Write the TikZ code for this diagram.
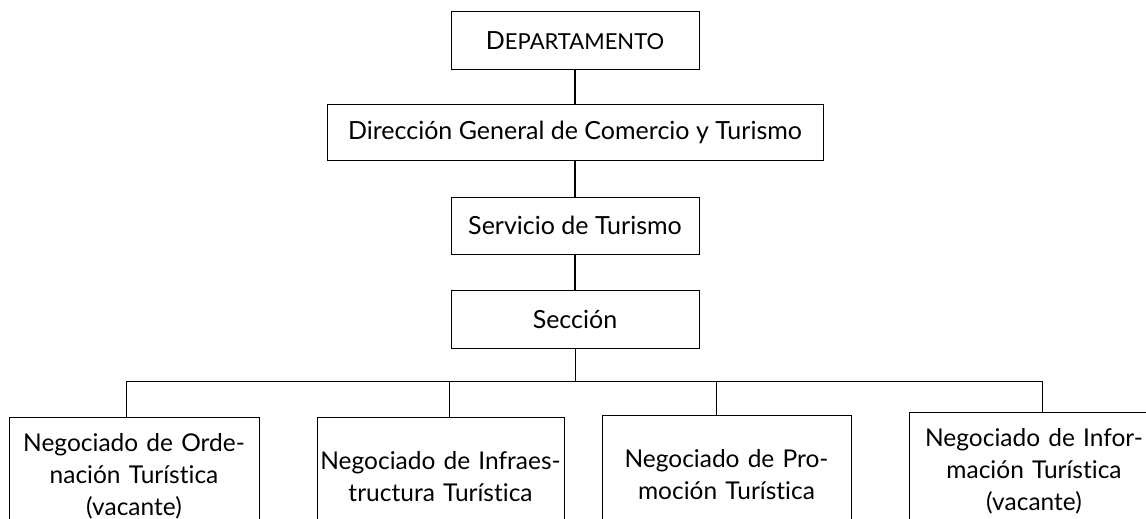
\documentclass[tikz,border=0pt]{standalone}
\usepackage{fontspec}
\setmainfont{Lato}[Ligatures=NoCommon]
\usepackage{tikz}
\usetikzlibrary{positioning}
\tikzset{unit/.style={shape=rectangle, draw=black, line width=1pt, inner sep=0pt, align=center,
    font=\fontsize{25}{32}\selectfont},
  neg/.style={unit, anchor=north, text width=246pt, minimum height=118pt,
    font=\fontsize{24.5}{32}\selectfont}}

\begin{document}
\begin{tikzpicture}[x=1pt, y=-1pt]
                \useasboundingbox (0,0) rectangle (1146,519);

                \node[unit, minimum width=248pt, minimum height=58pt] (Dep) at (575,41) {D{\fontsize{22}{24}\selectfont EPARTAMENTO}};
                \node[unit, minimum width=496pt, minimum height=56pt] (Dir) at (575,132) {Dirección General de Comercio y Turismo};
                \node[unit, minimum width=248pt, minimum height=57pt] (Ser) at (575,225.5) {Servicio de Turismo};
                \node[unit, minimum width=248pt, minimum height=58pt] (Sec) at (575,319) {Sección};

                \node[neg, minimum width=250pt] (N1) at (134,417) {Negociado de Orde-\\nación Turística\\(vacante)};
                \node[neg, minimum width=247pt] (N2) at (440.5,417) {Negociado de Infraes-\\tructura Turística};
                \node[neg, minimum width=249pt] (N3) at (726.5,415) {Negociado de Pro-\\moción Turística};
                \node[neg, minimum width=250pt] (N4) at (1034,412) {Negociado de Infor-\\mación Turística\\(vacante)};

                \coordinate (bus) at (575,381);

                \draw[line width=1.2pt] (Dep) -- (Dir);
                \draw[line width=1.2pt] (Dir) -- (Ser);
                \draw[line width=1.2pt] (Ser) -- (Sec);
                \draw[line width=1pt] (Sec) -- (bus);
                \draw[line width=1pt] ([xshift=-8pt]N1.north) -- ([xshift=-8pt]N1.north |- bus) -- ([xshift=8pt]N4.north |- bus) -- ([xshift=8pt]N4.north);
                \draw[line width=1pt] ([xshift=8.5pt]N2.north) -- ([xshift=8.5pt]N2.north |- bus);
                \draw[line width=1pt] ([xshift=-10.5pt]N3.north) -- ([xshift=-10.5pt]N3.north |- bus);

            \end{tikzpicture}
\end{document}
